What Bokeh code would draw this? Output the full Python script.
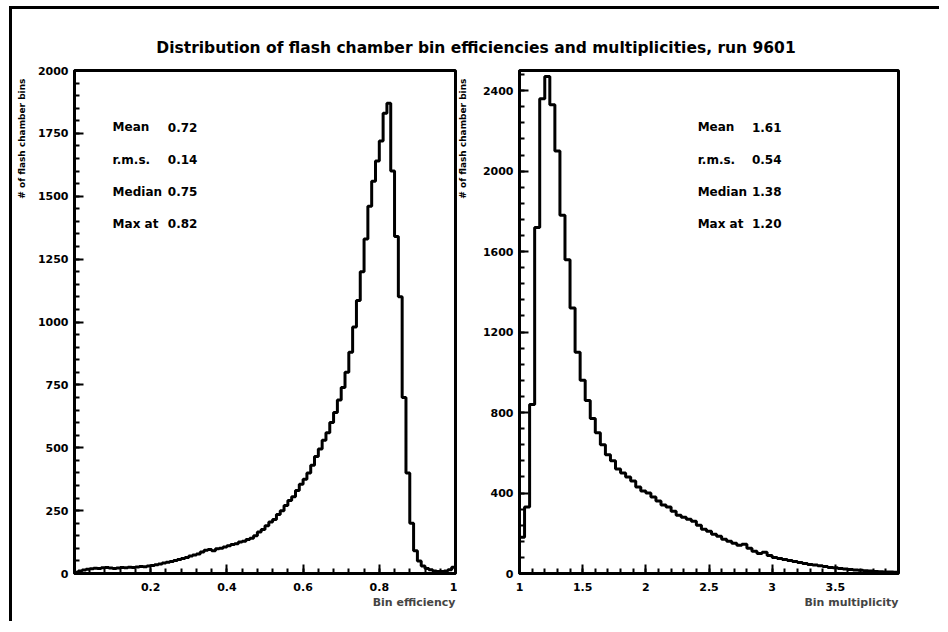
import numpy as np
from bokeh.plotting import figure
from bokeh.models import Range1d, FixedTicker, Title
from bokeh.layouts import row, column
from bokeh.embed import file_html
from bokeh.resources import INLINE
from bokeh.core.properties import value

# ---------------- data ----------------
TITLE = "Distribution of flash chamber bin efficiencies and multiplicities, run 9601"
Y_LABEL = "# of flash chamber bins"
EFF_X_LABEL = "Bin efficiency"
MULT_X_LABEL = "Bin multiplicity"

eff_start = 0.0
eff_bin_width = 0.01
eff_counts = [
    5, 10, 14, 17, 19, 21, 20, 23, 24, 22,
    20, 22, 24, 23, 25, 24, 26, 28, 27, 30,
    32, 35, 38, 42, 45, 48, 52, 56, 60, 64,
    70, 74, 78, 85, 92, 95, 90, 98, 100, 105,
    110, 115, 118, 125, 128, 135, 140, 150, 165, 175,
    190, 205, 215, 235, 250, 270, 290, 305, 330, 355,
    375, 400, 430, 465, 495, 530, 560, 600, 640, 690,
    740, 800, 880, 980, 1085, 1200, 1330, 1460, 1560, 1640,
    1720, 1830, 1870, 1600, 1340, 1100, 700, 400, 200, 90,
    50, 30, 20, 15, 10, 8, 8, 10, 15, 25,
]

mult_start = 1.0
mult_bin_width = 0.04
mult_counts = [
    180, 330, 840, 1720, 2360, 2470, 2330, 2100, 1780, 1560,
    1320, 1100, 960, 860, 770, 700, 640, 590, 560, 520,
    500, 480, 460, 430, 410, 400, 380, 360, 340, 330,
    310, 290, 280, 270, 260, 240, 220, 210, 195, 185,
    170, 160, 150, 140, 145, 125, 110, 100, 105, 90,
    80, 75, 70, 65, 60, 55, 50, 45, 42, 38,
    35, 30, 28, 25, 22, 20, 18, 16, 14, 12,
    10, 9, 8, 7, 6,
]

stat_names = ["Mean", "r.m.s.", "Median", "Max at"]
eff_stat_values = ["0.72", "0.14", "0.75", "0.82"]
mult_stat_values = ["1.61", "0.54", "1.38", "1.20"]

eff_x_range = (0.0, 1.0)
eff_y_range = (0, 2000)
eff_xticks = [0.2, 0.4, 0.6, 0.8, 1.0]
eff_xtick_labels = ["0.2", "0.4", "0.6", "0.8", "1"]
eff_yticks = [0, 250, 500, 750, 1000, 1250, 1500, 1750, 2000]

mult_x_range = (1.0, 4.0)
mult_y_range = (0, 2500)
mult_xticks = [1.0, 1.5, 2.0, 2.5, 3.0, 3.5]
mult_xtick_labels = ["1", "1.5", "2", "2.5", "3", "3.5"]
mult_yticks = [0, 400, 800, 1200, 1600, 2000, 2400]

FONT = "DejaVu Sans"
PANEL_H = 558


def outline_path(start, width, counts):
    edges = start + width * np.arange(len(counts) + 1)
    xs = [edges[0]]
    ys = [0]
    for i, c in enumerate(counts):
        xs += [edges[i], edges[i + 1]]
        ys += [c, c]
    xs.append(edges[-1])
    ys.append(0)
    return xs, ys


def make_panel(width, xr, yr, xticks, xlabels, xminor, yticks, yminor,
               counts, start, bw, xlabel, stat_vals, stat_x, stat_val_x, mbl, mbr):
    p = figure(width=width, height=PANEL_H, x_range=Range1d(*xr), y_range=Range1d(*yr),
               output_backend="svg", toolbar_location=None,
               min_border_left=mbl, min_border_right=mbr,
               min_border_top=7, min_border_bottom=48)
    p.grid.visible = False
    p.outline_line_color = "black"
    p.outline_line_width = 3
    p.border_fill_color = "white"

    xa = p.xaxis[0]
    ya = p.yaxis[0]
    xa.ticker = FixedTicker(ticks=xticks, minor_ticks=list(xminor))
    xa.major_label_overrides = {t: l for t, l in zip(xticks, xlabels)}
    ya.ticker = FixedTicker(ticks=yticks, minor_ticks=list(yminor))
    ya.major_label_overrides = {t: str(t) for t in yticks}
    for ax in (xa, ya):
        ax.axis_line_width = 3
        ax.axis_line_color = "black"
        ax.major_tick_in = 9
        ax.major_tick_out = 0
        ax.minor_tick_in = 5
        ax.minor_tick_out = 0
        ax.major_tick_line_width = 2
        ax.minor_tick_line_width = 2
        ax.major_label_text_font = FONT
        ax.major_label_text_font_style = "bold"
        ax.major_label_text_font_size = "11px"
        ax.major_label_text_color = "black"
    ya.major_label_standoff = 6
    xa.major_label_standoff = 9
    ya.major_label_orientation = "horizontal"

    xs, ys = outline_path(start, bw, counts)
    p.line(xs, ys, line_color="black", line_width=3)

    # statistics box
    n = len(stat_names)
    stat_y = [yr[1] * (0.887 - 0.064 * i) for i in range(n)]
    p.text(x=[stat_x] * n, y=stat_y, text=stat_names, text_font=value(FONT),
           text_font_style="bold", text_font_size="12px", text_align="left",
           text_baseline="middle", text_color="black")
    p.text(x=[stat_val_x] * n, y=stat_y, text=stat_vals, text_font=value(FONT),
           text_font_style="bold", text_font_size="12px", text_align="left",
           text_baseline="middle", text_color="black")

    p.add_layout(Title(text=xlabel, align="right", text_font=FONT,
                       text_font_style="bold", text_font_size="11px",
                       standoff=0), "below")
    return p


def make_ylabel(width):
    f = figure(width=width, height=PANEL_H, x_range=Range1d(0, 1), y_range=Range1d(0, 1),
               x_axis_type=None, y_axis_type=None, output_backend="svg",
               toolbar_location=None, min_border=0)
    f.outline_line_color = None
    f.grid.visible = False
    f.text(x=[0.5], y=[0.984], text=[Y_LABEL], angle=np.pi / 2, text_font=value(FONT),
           text_font_style="bold", text_font_size="9px", text_align="right",
           text_baseline="middle", text_color="black")
    return f


lab1 = make_ylabel(18)
p1 = make_panel(427, eff_x_range, eff_y_range, eff_xticks, eff_xtick_labels,
                np.arange(0, 1.0001, 0.04), eff_yticks, np.arange(0, 2001, 50),
                eff_counts, eff_start, eff_bin_width, EFF_X_LABEL, eff_stat_values,
                0.10, 0.245, 44, 2)
lab2 = make_ylabel(11)
p2 = make_panel(471, mult_x_range, mult_y_range, mult_xticks, mult_xtick_labels,
                np.arange(1.0, 4.0001, 0.1), mult_yticks, np.arange(0, 2501, 80),
                mult_counts, mult_start, mult_bin_width, MULT_X_LABEL, mult_stat_values,
                2.41, 2.84, 51, 41)

pt = figure(width=927, height=54, x_range=Range1d(0, 1), y_range=Range1d(0, 1),
            x_axis_type=None, y_axis_type=None, output_backend="svg",
            toolbar_location=None, min_border=0)
pt.outline_line_color = None
pt.grid.visible = False
pt.text(x=[0.5], y=[0.278], text=[TITLE], text_font=value(FONT), text_font_style="bold",
        text_font_size="15.5px", text_align="center", text_baseline="middle",
        text_color="black")

layout = column(pt, row(lab1, p1, lab2, p2),
                styles={"margin-left": "9px", "margin-top": "6px",
                        "border-left": "3px solid black", "border-top": "3px solid black"})

open("out.html", "w").write(file_html(layout, INLINE))
